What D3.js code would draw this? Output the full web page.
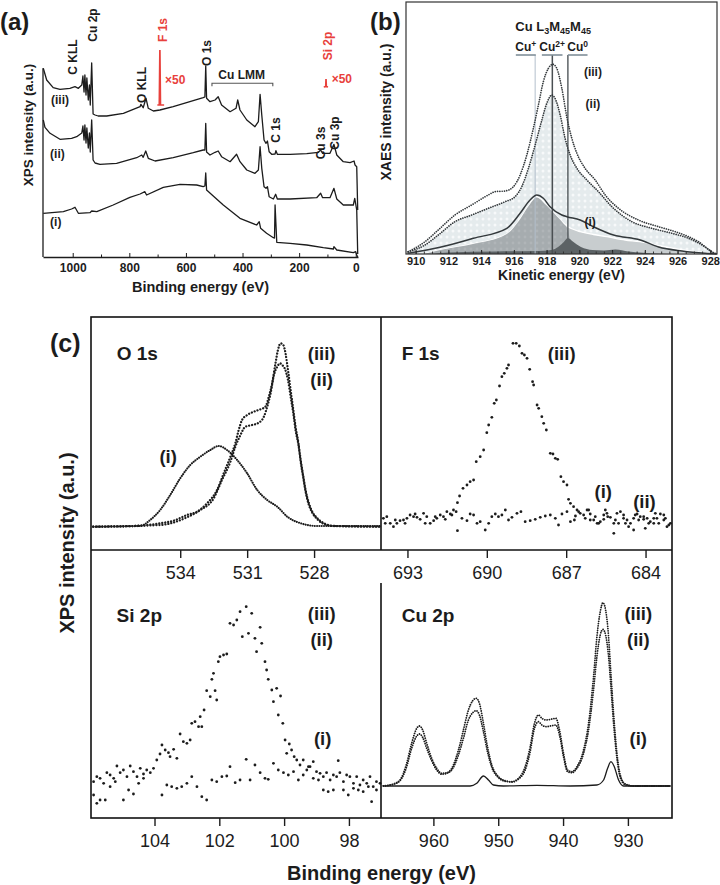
<!DOCTYPE html>
<html><head><meta charset="utf-8">
<script src="https://cdn.jsdelivr.net/npm/d3@7"></script>
<style>body{margin:0;background:#fff;} svg{display:block;background:#fff;}</style>
</head><body>
<script>
// ================= DATA =================
// (a) XPS survey spectra: [binding energy (eV), intensity (a.u.)]
const surveyIII = [[1104,188.7],[1092,177],[1069,169.3],[1045,167.7],[1010,168.7],[992,170.3],[980,168.7],[968,172],[964,181],[960,165],[957,182],[953,162],[950,179],[945,157],[941,172],[938,152],[933,194],[928,143],[921,142],[910,141],[880,141],[821,143.7],[762,150.3],[759,152.7],[751,149.3],[741,158.7],[733,148.7],[715,146],[692,147],[645,150.3],[586,155.3],[539,159.3],[533,160],[530,191],[527,158.7],[515,155.3],[497,157],[486,160.3],[474,152],[444,145.3],[423,148.7],[417,157],[409,147],[385,137],[356,130.3],[344,135.3],[338,162.7],[332,142],[324,117],[317,113.7],[312,116],[306,105.3],[297,102.7],[285,103],[282,106.3],[277,102.7],[232,102.7],[173,103.3],[132,104.7],[124,107],[117,103.7],[91,103.7],[77,112.7],[67,102],[44,95.3],[20,94.3],[6,96],[2.5,92],[-3.5,90.3],[-7,47]];
const surveyII = [[1104,137],[1098,129.7],[1080,123.7],[1045,117.7],[1004,118.7],[986,120.3],[968,124],[964,131],[960,117],[957,132],[953,114],[950,129],[945,109],[941,124],[938,105],[933,137],[928,97],[921,94],[904,92.7],[845,93.7],[774,99.3],[756,102],[751,99.7],[742,106],[733,98.7],[709,96],[645,99.3],[574,104.3],[539,107],[533,107],[530,133.7],[527,105],[515,102],[497,104.7],[486,106],[474,100.3],[444,95.3],[421,102.7],[409,95.3],[385,87],[356,83.7],[344,87],[338,110.3],[332,88.7],[324,70.3],[317,68.7],[312,70.3],[306,60.3],[291,58],[283,62.7],[277,58],[232,58],[138,59.3],[124,63.7],[117,59.3],[91,59.3],[77,68.7],[67,58],[44,52],[8.5,52],[3.5,58.7],[-3.5,47],[-7,3]];
const surveyI = [[1104,43.7],[1033,45.3],[1004,48],[992,49.7],[980,43.7],[939,44.3],[933,46],[915,45.3],[857,52],[798,59.7],[762,63],[745,65.3],[739,62],[680,69.7],[621,72.7],[562,72],[539,70.3],[533,71],[530,84],[527,67],[468,52],[409,38.7],[350,32],[341,35.3],[336,28.7],[315,23.7],[291,19.3],[287,19],[285,52],[279,14.7],[232,13.7],[173,12],[114.5,9.3],[79,8],[77,10.3],[67,7],[8.5,4.3],[0,5.3],[-3.5,2],[-7,0]];
const surveyF1sX50 = [[701,152],[694,152],[692,207],[690,152],[677,152]];
const surveySi2pX50 = [[113,170],[106,170.5],[105,178],[104,170.5],[98,170]];
const surveyTicks = [1000,800,600,400,200,0];
const surveyMinorTicks = [900,700,500,300,100];
const surveyPeakLabels = [
  {t:'C KLL',e:999,v:200},{t:'Cu 2p',e:929.5,v:232},{t:'O KLL',e:756,v:172},
  {t:'O 1s',e:525.5,v:204},{t:'C 1s',e:283,v:127},{t:'Cu 3s',e:124,v:114},{t:'Cu 3p',e:75.6,v:124}];
const surveyRedLabels = [{t:'F 1s',e:682,v:227},{t:'Si 2p',e:97,v:211}];
const surveyX50Labels = [{e:674,v:177},{e:85,v:178}];
const surveyLMM = {e0:508,e1:293,v:173.7,t:'Cu LMM',te:403,tv:182};
const surveyCurveLabels = [{t:'(iii)',e:1045,v:157},{t:'(ii)',e:1054,v:103.7},{t:'(i)',e:1060,v:35.3}];

// (b) Cu LMM XAES: [kinetic energy (eV), intensity (a.u.)]
const xaesIII = [[909.55,2.3],[910.57,12.3],[911.38,24],[912.4,39],[913.42,49],[914.44,59],[914.85,62.3],[915.46,63],[915.97,67.3],[916.38,79],[916.79,99],[917.19,125.7],[917.5,149],[917.8,172.3],[918.11,185.7],[918.38,189.7],[918.62,185.7],[918.93,165.7],[919.23,137.3],[919.54,115.7],[919.85,100.7],[920.35,85.7],[920.97,74],[921.58,59],[922.39,45.7],[923.61,34],[924.84,27.3],[925.86,22.3],[926.67,17.3],[927.28,12.3],[928.1,2.3],[928.4,0]];
const xaesII = [[909.55,2.3],[910.57,9],[911.38,19],[912.4,32.3],[913.42,39],[914.44,45.7],[915.46,52.3],[916.07,57.3],[916.48,67.3],[916.89,85.7],[917.3,109],[917.71,134],[918.01,150.7],[918.32,159],[918.56,154],[918.83,139],[919.13,115.7],[919.44,99],[919.85,85.7],[920.46,74],[921.17,62.3],[921.99,47.3],[923.21,32.3],[924.43,25.7],[925.66,20.7],[926.67,15.7],[927.49,9],[928.2,0.7]];
const xaesI = [[909.55,0.7],[911.49,6.7],[913.52,15.7],[915.57,25.7],[916.38,40.7],[916.99,54],[917.4,59],[917.8,55.7],[918.21,47.3],[918.93,39],[919.24,37.3],[920.05,34],[920.86,27.3],[922.09,19],[923.72,14],[924.84,7],[926.27,3],[927.69,0.7],[928.4,0]];
const xaesFitTotal = [[910.5,0],[911.5,4],[913.5,10],[915.57,20],[916.3,33],[916.9,48],[917.4,57],[918.2,45],[919.23,28],[920.05,22.3],[920.86,19.5],[921.68,17.3],[922.8,14],[923.7,12.3],[925.0,8],[926.3,4],[927.5,1.5],[928.2,0]];
const xaesFitCu1 = [[910.5,0],[911.5,4],[913.5,10],[915.57,20],[916.3,33],[916.9,48],[917.4,56.5],[917.9,50],[918.5,40],[919.0,31],[919.3,24],[919.5,10],[920,5],[921,2.5],[923,0.5],[925,0]];
const xaesFitCu0 = [[911,0],[912,1.5],[915,2.5],[917.5,3],[918.3,4],[918.7,7],[919.05,12],[919.3,16],[919.6,12.5],[920.1,7],[920.8,4],[921.5,3.5],[922.2,4.5],[923,2.5],[924.8,0.5],[926,0]];
const xaesTicks = [910,912,914,916,918,920,922,924,926,928];
const xaesStates = [{t:'Cu',s:'+',e:917.3,b0:916.12,b1:917.34},{t:'Cu',s:'2+',e:918.35,b0:917.71,b1:918.97},{t:'Cu',s:'0',e:919.3,b0:919.3,b1:920.5}];
const xaesCurveLabels = [{t:'(iii)',e:920.83,v:182.3},{t:'(ii)',e:920.83,v:150.7},{t:'(i)',e:920.66,v:32.3}];

// (c) high-resolution spectra: [binding energy (eV), intensity (a.u.)]
const o1sIII = [[537.9,23.3],[536.1,24],[534.9,26.7],[534.3,29.3],[533.7,35],[533.25,38.3],[532.8,46.7],[532.35,60],[532.05,76.7],[531.75,93.3],[531.53,106.7],[531.38,120],[531.23,130],[531.0,135],[530.7,138.3],[530.4,140.7],[530.18,143.3],[530.03,153.3],[529.88,166.7],[529.73,186.7],[529.62,200],[529.5,206.7],[529.38,205],[529.28,196.7],[529.17,180],[529.05,160],[528.93,140],[528.83,123.3],[528.7,106.7],[528.6,90],[528.48,73.3],[528.38,60],[528.23,46.7],[528.08,38.3],[527.85,31.7],[527.55,26.7],[527.1,24],[525.0,23.3]];
const o1sII = [[537.9,23.3],[534.9,25],[533.7,32.7],[533.1,40],[532.5,51.7],[532.13,70],[531.75,88.3],[531.53,103.3],[531.3,115],[531.08,123.3],[530.78,125],[530.48,127.3],[530.25,133.3],[530.1,143.3],[529.95,156.7],[529.8,175],[529.65,183.3],[529.53,186.7],[529.43,185],[529.32,181.7],[529.17,170],[529.05,153.3],[528.93,136.7],[528.83,120],[528.7,105],[528.6,88.3],[528.48,71.7],[528.38,58.3],[528.23,45],[528.08,37.3],[527.85,30.7],[527.55,26],[527.1,24],[525.0,23.3]];
const o1sI = [[537.9,23.3],[535.8,24],[535.35,30],[534.9,40],[534.45,55],[534,71.7],[533.55,85],[533.1,93.3],[532.65,100],[532.28,104],[531.9,100],[531.45,90],[531.0,76.7],[530.55,60],[530.1,50],[529.65,43.3],[529.2,33.3],[528.6,26.7],[527.85,24],[525.0,24]];
const f1sIII = [[693.91,31.7],[693.78,33.3],[693.65,26.7],[693.53,23.3],[693.40,26.7],[693.28,29.3],[693.15,30],[693.02,31.7],[692.90,35],[692.77,33.3],[692.64,32.7],[692.52,30.7],[692.39,36.7],[692.27,33.3],[692.14,26.7],[692.01,29.3],[691.89,31.7],[691.76,35],[691.64,33.3],[691.51,38.3],[691.38,36],[691.26,40],[691.16,38.3],[691.11,47.3],[691.03,54],[690.90,61.7],[690.75,65],[690.63,68.3],[690.50,70],[690.40,88.3],[690.25,93.3],[690.12,100],[690.00,117.3],[689.93,125],[689.81,132.7],[689.72,146.7],[689.64,150],[689.52,164],[689.43,173.3],[689.34,176.7],[689.24,181.7],[689.18,185],[689.01,206.7],[688.89,206.7],[688.77,204],[688.67,196.7],[688.58,195],[688.48,191.7],[688.38,180.7],[688.27,168.3],[688.23,165],[688.10,145],[688.04,141.7],[687.92,133.3],[687.85,126.7],[687.75,120],[687.60,96.7],[687.50,96],[687.41,91.7],[687.32,90.7],[687.20,73.3],[687.10,68.3],[686.97,65],[686.91,50.7],[686.84,46.7],[686.72,43.3],[686.59,40],[686.47,36.7],[686.34,35],[686.21,40],[686.09,36],[685.96,30],[685.83,26.7],[685.71,28.3],[685.58,30.7],[685.46,36.7],[685.33,32.7],[685.20,26.7],[685.08,36.7],[684.95,38.3],[684.83,35],[684.70,30],[684.57,26.7],[684.45,31.7],[684.32,36],[684.20,33.3],[684.07,30.7],[683.94,31.7],[683.82,28.3],[683.69,26.7],[683.57,31.7],[683.44,36],[683.31,30],[683.19,23.3],[683.06,26.7]];
const f1sI = [[693.84,26.7],[693.46,30],[693.09,26.7],[692.71,36],[692.33,26.7],[691.95,33.3],[691.57,30.7],[691.32,35],[691.11,19.3],[690.94,31.7],[690.75,29.3],[690.63,36],[690.50,35],[690.37,26.7],[690.25,28.3],[690.06,20],[689.93,26.7],[689.81,33.3],[689.68,36],[689.56,33.3],[689.43,35],[689.30,40],[689.18,30],[689.05,32.7],[688.86,36.7],[688.71,38.3],[688.55,28.3],[688.36,29.3],[688.17,30.7],[687.98,32.7],[687.79,34],[687.60,35],[687.41,31.7],[687.29,25],[687.16,36],[686.97,38.3],[686.84,28.3],[686.69,30],[686.53,38.3],[686.28,31.7],[686.15,40],[685.90,33.3],[685.77,26.7],[685.58,35],[685.43,33.3],[685.20,16.7],[685.02,26.7],[684.83,31.7],[684.64,23.3],[684.45,20],[684.26,30],[684.07,33.3],[683.88,26.7],[683.69,31.7],[683.50,26.7],[683.31,35],[683.12,25]];
const f1sII = [[686.65,34],[686.09,30],[685.52,40],[685.14,30],[684.76,26.7],[684.39,35],[684.01,21.7],[683.63,36.7],[683.25,31.7]];
const si2pIII = [[105.88,36.3],[105.78,41.3],[105.68,39.7],[105.57,34.7],[105.47,45.3],[105.37,43],[105.26,39.7],[105.16,52],[105.06,45.3],[104.96,48],[104.85,41.3],[104.75,52],[104.65,46.3],[104.54,41.3],[104.44,49.7],[104.34,44],[104.24,48],[104.13,45.3],[104.03,49.7],[103.93,58],[103.83,64],[103.77,73],[103.67,68],[103.57,65.3],[103.52,61.3],[103.41,68.7],[103.31,59.7],[103.21,84],[103.11,76.3],[103.0,74.7],[102.9,78],[102.85,94.7],[102.75,96.3],[102.64,91.3],[102.59,101.3],[102.54,91.3],[102.47,108],[102.39,127.3],[102.28,121.3],[102.23,138.7],[102.18,144.7],[102.13,127.3],[102.08,118],[102.03,156.3],[101.98,161.3],[101.87,163],[101.77,164],[101.67,194.7],[101.56,193],[101.46,198],[101.36,206.3],[101.29,181.3],[101.17,211.3],[101.1,184.7],[101.0,204.7],[100.9,179.7],[100.85,166.3],[100.74,190.7],[100.69,174.7],[100.59,156.3],[100.54,148],[100.49,138.7],[100.38,128],[100.33,116.3],[100.23,129.7],[100.18,103],[100.11,122],[100.04,94.7],[99.97,78],[99.92,64.7],[99.84,74],[99.77,68],[99.69,61.3],[99.61,58],[99.51,53],[99.41,58],[99.3,48],[99.2,51.3],[99.1,56.3],[99.0,46.3],[98.89,44.7],[98.79,41.3],[98.69,45.3],[98.58,38],[98.48,43],[98.38,41.3],[98.28,45.3],[98.17,36.3],[98.07,43],[97.97,41.3],[97.86,34.7],[97.76,41.3],[97.66,33],[97.56,38],[97.45,34.7],[97.35,41.3],[97.25,31.3],[97.15,36.3],[97.04,34.7]];
const si2pI = [[105.88,23],[105.78,14.7],[105.68,18],[105.52,18],[105.37,31.3],[105.21,36.3],[104.96,18],[104.8,28],[104.65,24],[104.49,34.7],[104.34,39.7],[103.77,23],[103.62,33],[103.47,31.3],[103.31,29.7],[103.16,31.3],[103.0,34.7],[102.85,41.3],[102.69,31.3],[102.54,21.3],[102.39,18],[102.23,38],[102.08,36.3],[101.92,41.3],[101.77,42],[101.67,51.3],[101.51,35.3],[101.36,38],[101.17,58.7],[101.05,38],[100.9,53],[100.74,45.3],[100.59,39.7],[100.49,38.7],[100.33,54.7],[100.18,48],[100.02,45.3],[99.87,43],[99.71,46.3],[99.56,38],[99.41,43],[99.25,51.3],[99.1,39.7],[98.94,38],[98.79,28],[98.64,26.3],[98.48,28],[98.33,57.3],[98.17,28],[98.02,23],[97.86,29.7],[97.71,28],[97.56,26.3],[97.4,31.3],[97.3,16.3],[97.15,28]];
const cu2pIII = [[967.72,32],[966.18,34],[965.15,38],[964.12,54.7],[963.35,74.7],[962.57,89.7],[962.16,92],[961.65,88],[961.03,74.7],[960.26,59.7],[959.49,49.7],[958.71,44.7],[957.94,45.3],[957.17,49.7],[956.14,68],[955.37,88],[954.6,108],[953.93,117.3],[953.41,119.7],[952.9,114.7],[952.28,94.7],[951.66,71.3],[950.99,53],[949.96,41.3],[948.93,37.3],[947.91,36.3],[946.87,39.7],[945.85,51.3],[945.07,71.3],[944.41,94.7],[943.79,103],[943.27,99.7],[942.6,98],[941.73,99],[941.11,99.7],[940.55,88],[939.93,64.7],[939.31,48],[938.64,46.3],[937.87,51.3],[936.84,68],[936.07,94.7],[935.3,141.3],[934.78,181.3],[934.27,206.3],[933.85,215.3],[933.44,208],[932.98,181.3],[932.62,144.7],[932.21,104.7],[931.69,64.7],[931.18,43],[930.41,34],[929.12,32],[923.46,32]];
const cu2pII = [[967.72,32],[966.18,33.7],[965.15,37.3],[964.12,51.3],[963.35,69.7],[962.57,82],[962.16,84],[961.65,80.7],[961.03,69.7],[960.26,57.3],[959.49,48],[958.71,43.7],[957.94,44.7],[957.17,48],[956.14,63],[955.37,79.7],[954.6,98],[953.93,105.3],[953.41,107.3],[952.9,103],[952.28,86.3],[951.66,66.3],[950.99,50.7],[949.96,40.3],[948.93,36.7],[947.91,36],[946.87,39],[945.85,48],[945.07,66.3],[944.41,89.7],[943.79,96.3],[943.27,93],[942.6,91.3],[941.73,92.3],[941.11,93],[940.55,83],[939.93,61.3],[939.31,46.3],[938.64,45.3],[937.87,49.7],[936.84,64.7],[936.07,88],[935.3,128],[934.78,161.3],[934.27,183],[933.85,188.7],[933.44,183],[932.98,161.3],[932.62,131.3],[932.21,94.7],[931.69,59.7],[931.18,40.7],[930.41,33.3],[929.12,32],[923.46,32]];
const cu2pI = [[967.72,32],[954.34,32],[953.31,34.7],[952.28,42],[951.51,38],[950.74,33],[949.19,32],[944.05,32.7],[938.9,32],[934.78,33],[933.75,38],[933.13,49.7],[932.62,56.3],[932.1,51.3],[931.44,38],[930.66,32],[923.46,32]];
const o1sTicks = [534,531,528];
const f1sTicks = [693,690,687,684];
const si2pTicks = [104,102,100,98];
const cu2pTicks = [960,950,940,930];
const panelLabels = {
  o1s:[{t:'O 1s',e:536.85,v:196.7,a:'start',big:1},{t:'(iii)',e:527.66,v:196.7},{t:'(ii)',e:527.66,v:170},{t:'(i)',e:534.54,v:93.3}],
  f1s:[{t:'F 1s',e:693.22,v:196.7,a:'start',big:1},{t:'(iii)',e:687.17,v:196.7},{t:'(i)',e:685.6,v:58.3},{t:'(ii)',e:684.04,v:48.3}],
  si2p:[{t:'Si 2p',e:105.17,v:203,a:'start',big:1},{t:'(iii)',e:98.84,v:204.7},{t:'(ii)',e:98.84,v:178},{t:'(i)',e:98.81,v:79.7}],
  cu2p:[{t:'Cu 2p',e:964.89,v:203,a:'start',big:1},{t:'(iii)',e:928.4,v:204.7},{t:'(ii)',e:928.4,v:178},{t:'(i)',e:928.4,v:79.7}]
};

// ================= DRAWING =================
const FONT = "'Liberation Sans', Arial, Helvetica, sans-serif";
const INK = '#1c1c1c';
const RED = '#e8413c';
const svg = d3.select('body').append('svg').attr('width',720).attr('height',885)
  .style('font-family',FONT);

function label(g,x,y,s,o={}){
  const t = g.append('text').attr('x',x).attr('y',y).attr('dy',o.dy===undefined?'0.35em':o.dy)
    .attr('text-anchor',o.anchor||'middle').attr('font-size',o.size||12)
    .attr('font-weight',o.weight||'bold').attr('fill',o.color||INK).text(s);
  if(o.rot) t.attr('transform',`rotate(-90,${x},${y})`);
  return t;
}
function styleAxis(g,size,weight){
  g.selectAll('text').attr('font-size',size).attr('font-weight',weight).attr('fill',INK).attr('font-family',FONT);
  g.selectAll('line').attr('stroke',INK);
}

// ---------- (a) ----------
const gA = svg.append('g');
const xA = d3.scaleLinear().domain([1105,-8]).range([43,358]);
const yA = d3.scaleLinear().domain([0,237]).range([257,20]);
const lineA = d3.line().x(d=>xA(d[0])).y(d=>yA(d[1]));
[surveyI,surveyII,surveyIII].forEach(s=>gA.append('path').attr('d',lineA(s))
  .attr('fill','none').attr('stroke',INK).attr('stroke-width',1.3).attr('stroke-linejoin','round'));
[surveyF1sX50,surveySi2pX50].forEach(s=>gA.append('path').attr('d',lineA(s))
  .attr('fill','none').attr('stroke',RED).attr('stroke-width',1.7));
const axA = gA.append('g').attr('transform',`translate(0,${yA(0)})`)
  .call(d3.axisBottom(xA).tickValues(surveyTicks).tickSize(-4).tickSizeOuter(0).tickPadding(6).tickFormat(d3.format('d')));
axA.select('.domain').attr('stroke',INK).attr('stroke-width',1.3);
styleAxis(axA,12,'bold');
const axA2 = gA.append('g').attr('transform',`translate(0,${yA(0)})`)
  .call(d3.axisBottom(xA).tickValues(surveyMinorTicks).tickSize(-2.5).tickFormat(''));
axA2.select('.domain').remove(); axA2.selectAll('line').attr('stroke',INK);
gA.append('line').attr('x1',xA.range()[0]).attr('x2',xA.range()[0])
  .attr('y1',yA(surveyIII[0][1])).attr('y2',yA(0)).attr('stroke',INK).attr('stroke-width',1.3);
surveyPeakLabels.forEach(d=>label(gA,xA(d.e),yA(d.v),d.t,{rot:1,size:12}));
surveyRedLabels.forEach(d=>label(gA,xA(d.e),yA(d.v),d.t,{rot:1,size:12,color:RED}));
surveyX50Labels.forEach(d=>label(gA,xA(d.e),yA(d.v),'\u00d750',{anchor:'start',size:12,color:RED}));
gA.append('path')
  .attr('d',`M${xA(surveyLMM.e0)},${yA(surveyLMM.v)+3}V${yA(surveyLMM.v)}H${xA(surveyLMM.e1)}V${yA(surveyLMM.v)+3}`)
  .attr('fill','none').attr('stroke','#555').attr('stroke-width',1.1);
label(gA,xA(surveyLMM.te),yA(surveyLMM.tv),surveyLMM.t,{size:12});
surveyCurveLabels.forEach(d=>label(gA,xA(d.e),yA(d.v),d.t,{size:12}));
label(gA,28,125,'XPS intensity (a.u.)',{rot:1,size:13.5});
label(gA,(xA.range()[0]+xA.range()[1])/2,287,'Binding energy (eV)',{size:14.5});
label(gA,0,30,'(a)',{anchor:'start',size:24,dy:0});

// ---------- (b) ----------
const gB = svg.append('g');
const xB = d3.scaleLinear().domain([909.41,928.41]).range([406,717]);
const yB = d3.scaleLinear().domain([0,252]).range([254,2]);
const defs = svg.append('defs');
const pat = defs.append('pattern').attr('id','dotfill').attr('patternUnits','userSpaceOnUse')
  .attr('width',6).attr('height',6);
pat.append('rect').attr('width',6).attr('height',6).attr('fill','#e5ebed');
pat.append('circle').attr('cx',3).attr('cy',3).attr('r',1.5).attr('fill','#f7f9fa');
const pat2 = defs.append('pattern').attr('id','dotfill2').attr('patternUnits','userSpaceOnUse')
  .attr('width',6).attr('height',6);
pat2.append('rect').attr('width',6).attr('height',6).attr('fill','#a6acaf');
pat2.append('circle').attr('cx',3).attr('cy',3).attr('r',1.4).attr('fill','#b0b5b8');
const areaB = d3.area().x(d=>xB(d[0])).y0(yB(0)).y1(d=>yB(d[1])).curve(d3.curveMonotoneX);
const lineB = d3.line().x(d=>xB(d[0])).y(d=>yB(d[1])).curve(d3.curveMonotoneX);
gB.append('path').attr('d',areaB(xaesII)).attr('fill','url(#dotfill)');
gB.append('path').attr('d',areaB(xaesFitTotal)).attr('fill','#c8cdcf').attr('stroke','#fff').attr('stroke-width',1.3);
gB.append('path').attr('d',areaB(xaesFitCu1)).attr('fill','url(#dotfill2)');
gB.append('path').attr('d',areaB(xaesFitCu0)).attr('fill','#5c6265');
const lineCols = ['#b3bfcc','#4a4f52','#5d6366'];
xaesStates.forEach((d,i)=>{
  gB.append('line').attr('x1',xB(d.e)).attr('x2',xB(d.e)).attr('y1',yB(199)).attr('y2',yB(0))
    .attr('stroke',lineCols[i]).attr('stroke-width',i===0?1:1.5);
  gB.append('line').attr('x1',xB(d.b0)).attr('x2',xB(d.b1)).attr('y1',yB(199)).attr('y2',yB(199))
    .attr('stroke','#7f8e98').attr('stroke-width',1.6);
  const t = gB.append('text').attr('x',xB((d.b0+d.b1)/2)).attr('y',yB(207.3)).attr('dy','0.35em')
    .attr('text-anchor','middle').attr('font-size',12).attr('font-weight','bold').attr('fill',INK);
  t.append('tspan').text(d.t);
  t.append('tspan').attr('dy',-4).attr('font-size',8.5).text(d.s);
});
gB.append('path').attr('d',lineB(xaesII)).attr('fill','none').attr('stroke','#34393c')
  .attr('stroke-width',1.7).attr('stroke-linecap','round').attr('stroke-dasharray','0.01 2.3');
gB.append('path').attr('d',lineB(xaesIII)).attr('fill','none').attr('stroke','#34393c')
  .attr('stroke-width',1.7).attr('stroke-linecap','round').attr('stroke-dasharray','0.01 2.3');
gB.append('path').attr('d',lineB(xaesI)).attr('fill','none').attr('stroke','#34393c').attr('stroke-width',1.5);
gB.append('rect').attr('x',xB.range()[0]).attr('y',yB.range()[1]).attr('width',xB.range()[1]-xB.range()[0])
  .attr('height',yB.range()[0]-yB.range()[1]).attr('fill','none').attr('stroke','#333').attr('stroke-width',1.2);
const axB = gB.append('g').attr('transform',`translate(0,${yB(0)})`)
  .call(d3.axisBottom(xB).tickValues(xaesTicks).tickSize(-4).tickSizeOuter(0).tickPadding(3));
axB.select('.domain').remove(); styleAxis(axB,11,'bold');
const axB2 = gB.append('g').attr('transform',`translate(0,${yB(0)})`)
  .call(d3.axisBottom(xB).tickValues(d3.range(909.5,928.01,0.5)).tickSize(-2.5).tickFormat(''));
axB2.select('.domain').remove(); axB2.selectAll('line').attr('stroke','#333');
const tt = gB.append('text').attr('x',xB(918.4)).attr('y',yB(228)).attr('dy','0.35em')
  .attr('text-anchor','middle').attr('font-size',13).attr('font-weight','bold').attr('fill',INK);
tt.append('tspan').text('Cu L');
tt.append('tspan').attr('dy',3).attr('font-size',9).text('3');
tt.append('tspan').attr('dy',-3).text('M');
tt.append('tspan').attr('dy',3).attr('font-size',9).text('45');
tt.append('tspan').attr('dy',-3).text('M');
tt.append('tspan').attr('dy',3).attr('font-size',9).text('45');
xaesCurveLabels.forEach(d=>label(gB,xB(d.e),yB(d.v),d.t,{size:12}));
label(gB,386,112,'XAES intensity (a.u.)',{rot:1,size:14});
label(gB,(xB.range()[0]+xB.range()[1])/2,275,'Kinetic energy (eV)',{size:14});
label(gB,370,30,'(b)',{anchor:'start',size:24,dy:0});

// ---------- (c) ----------
const gC = svg.append('g');
const yTop = d3.scaleLinear().domain([0,233]).range([550,317]);
const yBot = d3.scaleLinear().domain([0,235]).range([818,583]);
const xO = d3.scaleLinear().domain([538,525]).range([91,381]);
const xF = d3.scaleLinear().domain([694,683]).range([381,672]);
const xS = d3.scaleLinear().domain([105.96,97.01]).range([91,381]);
const xC = d3.scaleLinear().domain([968.08,923.2]).range([381,672]);

function dottedPath(data,xs,ys,w,gap){
  gC.append('path').attr('d',d3.line().x(d=>xs(d[0])).y(d=>ys(d[1])).curve(d3.curveMonotoneX)(data))
    .attr('fill','none').attr('stroke',INK).attr('stroke-width',w)
    .attr('stroke-linecap','round').attr('stroke-dasharray',`0.01 ${gap}`);
}
function dots(data,xs,ys,r){
  gC.append('g').selectAll('circle').data(data).enter().append('circle')
    .attr('cx',d=>xs(d[0])).attr('cy',d=>ys(d[1])).attr('r',r).attr('fill',INK);
}
dottedPath(o1sI,xO,yTop,2.1,2.3);
dottedPath(o1sII,xO,yTop,2.3,3.0);
dottedPath(o1sIII,xO,yTop,2.3,3.0);
dots(f1sI,xF,yTop,1.4); dots(f1sII,xF,yTop,1.4); dots(f1sIII,xF,yTop,1.4);
dots(si2pI,xS,yBot,1.4); dots(si2pIII,xS,yBot,1.4);
gC.append('path').attr('d',d3.line().x(d=>xC(d[0])).y(d=>yBot(d[1])).curve(d3.curveMonotoneX)(cu2pI))
  .attr('fill','none').attr('stroke',INK).attr('stroke-width',1.3);
dottedPath(cu2pII,xC,yBot,1.8,2.3);
dottedPath(cu2pIII,xC,yBot,1.8,2.3);

const L = xO.range()[0], M = xO.range()[1], R = xF.range()[1];
const T = yTop.range()[1], A = yTop.range()[0], B2 = yBot.range()[1], B = yBot.range()[0];
gC.append('rect').attr('x',L).attr('y',T).attr('width',R-L).attr('height',B-T)
  .attr('fill','none').attr('stroke','#111').attr('stroke-width',1.6);
gC.append('line').attr('x1',L).attr('x2',R).attr('y1',A).attr('y2',A).attr('stroke','#111').attr('stroke-width',1.6);
gC.append('line').attr('x1',M).attr('x2',M).attr('y1',T).attr('y2',A).attr('stroke','#111').attr('stroke-width',1.6);
gC.append('line').attr('x1',M).attr('x2',M).attr('y1',B2).attr('y2',B).attr('stroke','#111').attr('stroke-width',1.6);

function cAxis(scale,y,ticks){
  const g = gC.append('g').attr('transform',`translate(0,${y})`)
    .call(d3.axisBottom(scale).tickValues(ticks).tickSize(8).tickSizeOuter(0).tickPadding(8));
  g.select('.domain').remove();
  g.selectAll('line').attr('stroke-width',1.4);
  styleAxis(g,18,'normal');
}
cAxis(xO,A,o1sTicks); cAxis(xF,A,f1sTicks); cAxis(xS,B,si2pTicks); cAxis(xC,B,cu2pTicks);

function pLabels(arr,xs,ys){
  arr.forEach(d=>label(gC,xs(d.e),ys(d.v),d.t,{size:d.big?19:18.5,anchor:d.a||'middle'}));
}
pLabels(panelLabels.o1s,xO,yTop); pLabels(panelLabels.f1s,xF,yTop);
pLabels(panelLabels.si2p,xS,yBot); pLabels(panelLabels.cu2p,xC,yBot);

label(gC,67,543,'XPS intensity (a.u.)',{rot:1,size:20});
label(gC,(L+R)/2,873,'Binding energy (eV)',{size:20});
label(gC,50,352,'(c)',{anchor:'start',size:25,dy:0});
</script>
</body></html>
